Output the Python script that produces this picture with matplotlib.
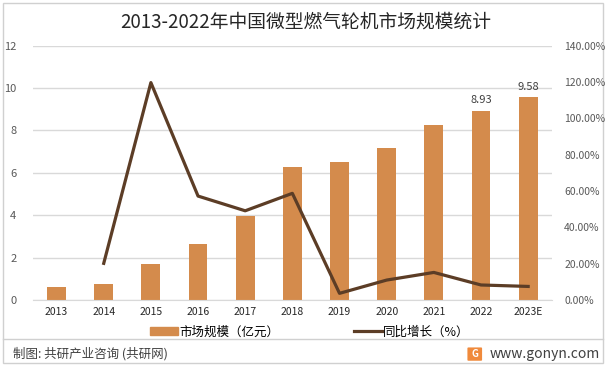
import matplotlib
matplotlib.use("Agg")
import matplotlib.pyplot as plt
from matplotlib.patches import Patch, Rectangle, FancyBboxPatch
from matplotlib.lines import Line2D
from matplotlib.ticker import FuncFormatter

plt.rcParams['font.family'] = ['Noto Sans CJK SC', 'DejaVu Sans']

# data
years = ["2013", "2014", "2015", "2016", "2017", "2018", "2019", "2020", "2021", "2022", "2023E"]
market_size = [0.61, 0.75, 1.70, 2.64, 3.98, 6.27, 6.50, 7.17, 8.25, 8.93, 9.58]
growth = [None, 20.2, 119.6, 57.2, 49.1, 58.7, 3.7, 11.0, 15.2, 8.3, 7.5]
labelled = {"2022": "8.93", "2023E": "9.58"}

bar_color = "#D48B4C"
line_color = "#5C3D26"
grid_color = "#D9D9D9"

fig = plt.figure(figsize=(6.11, 3.70), dpi=100)
ax = fig.add_axes([0.054, 0.189, 0.849, 0.688])
ax2 = ax.twinx()

x = list(range(len(years)))
ax.bar(x, market_size, width=0.4, color=bar_color, zorder=2)
for i, y in enumerate(years):
    if y in labelled:
        ax.text(i, market_size[i] + 0.25, labelled[y], ha="center", va="bottom",
                fontsize=8, color="#404040")

gx = [i for i, g in enumerate(growth) if g is not None]
gy = [g for g in growth if g is not None]
ax2.plot(gx, gy, color=line_color, linewidth=2.3, zorder=3)

ax.set_xlim(-0.5, len(years) - 0.5)
ax.set_ylim(0, 12)
ax.set_yticks(range(0, 13, 2))
ax2.set_ylim(0, 140)
ax2.set_yticks(range(0, 141, 20))
ax2.yaxis.set_major_formatter(FuncFormatter(lambda v, p: f"{v:.2f}%"))

ax.set_xticks(x)
ax.set_xticklabels(years)
ax.grid(axis="y", color=grid_color, linewidth=1, zorder=0)
ax.set_axisbelow(True)

for a in (ax, ax2):
    for s in a.spines.values():
        s.set_visible(False)
    a.tick_params(length=0)
ax.spines["bottom"].set_visible(True)
ax.spines["bottom"].set_color(grid_color)

ax.tick_params(axis="y", labelsize=8, colors="#595959", pad=12)
ax.tick_params(axis="x", labelsize=7.5, colors="#262626", pad=5)
ax2.tick_params(axis="y", labelsize=7.5, colors="#595959", pad=9)
ax2.set_zorder(ax.get_zorder() + 1)
ax2.patch.set_visible(False)

fig.text(0.5, 0.94, "2013-2022年中国微型燃气轮机市场规模统计", ha="center", va="center",
         fontsize=13.5, color="#262626")

handles = [Patch(color=bar_color), Line2D([0], [0], color=line_color, linewidth=2.3)]
fig.legend(handles, ["市场规模（亿元）", "同比增长（%）"], loc="center",
           bbox_to_anchor=(0.507, 0.103), ncol=2, frameon=False, fontsize=9,
           handlelength=2.2, handleheight=0.6, columnspacing=6, handletextpad=0.1)

# frame and footer
fig.add_artist(Rectangle((0.005, 0.019), 0.982, 0.973, transform=fig.transFigure,
                         fill=False, edgecolor="#D0D0D0", linewidth=1))
fig.add_artist(Line2D([0.005, 0.987], [0.084, 0.084], transform=fig.transFigure,
                      color="#D0D0D0", linewidth=1))
fig.text(0.022, 0.043, "制图: 共研产业咨询 (共研网)", ha="left", va="center",
         fontsize=9, color="#404040")
fig.text(0.982, 0.043, "www.gonyn.com", ha="right", va="center",
         fontsize=10, color="#404040")
fig.add_artist(FancyBboxPatch((0.767, 0.027), 0.02, 0.032, transform=fig.transFigure,
                              boxstyle="round,pad=0.002", facecolor="#F08A3C",
                              edgecolor="none"))
fig.text(0.777, 0.043, "G", ha="center", va="center", fontsize=7,
         color="white", fontweight="bold")

fig.savefig("out.png", dpi=100)
